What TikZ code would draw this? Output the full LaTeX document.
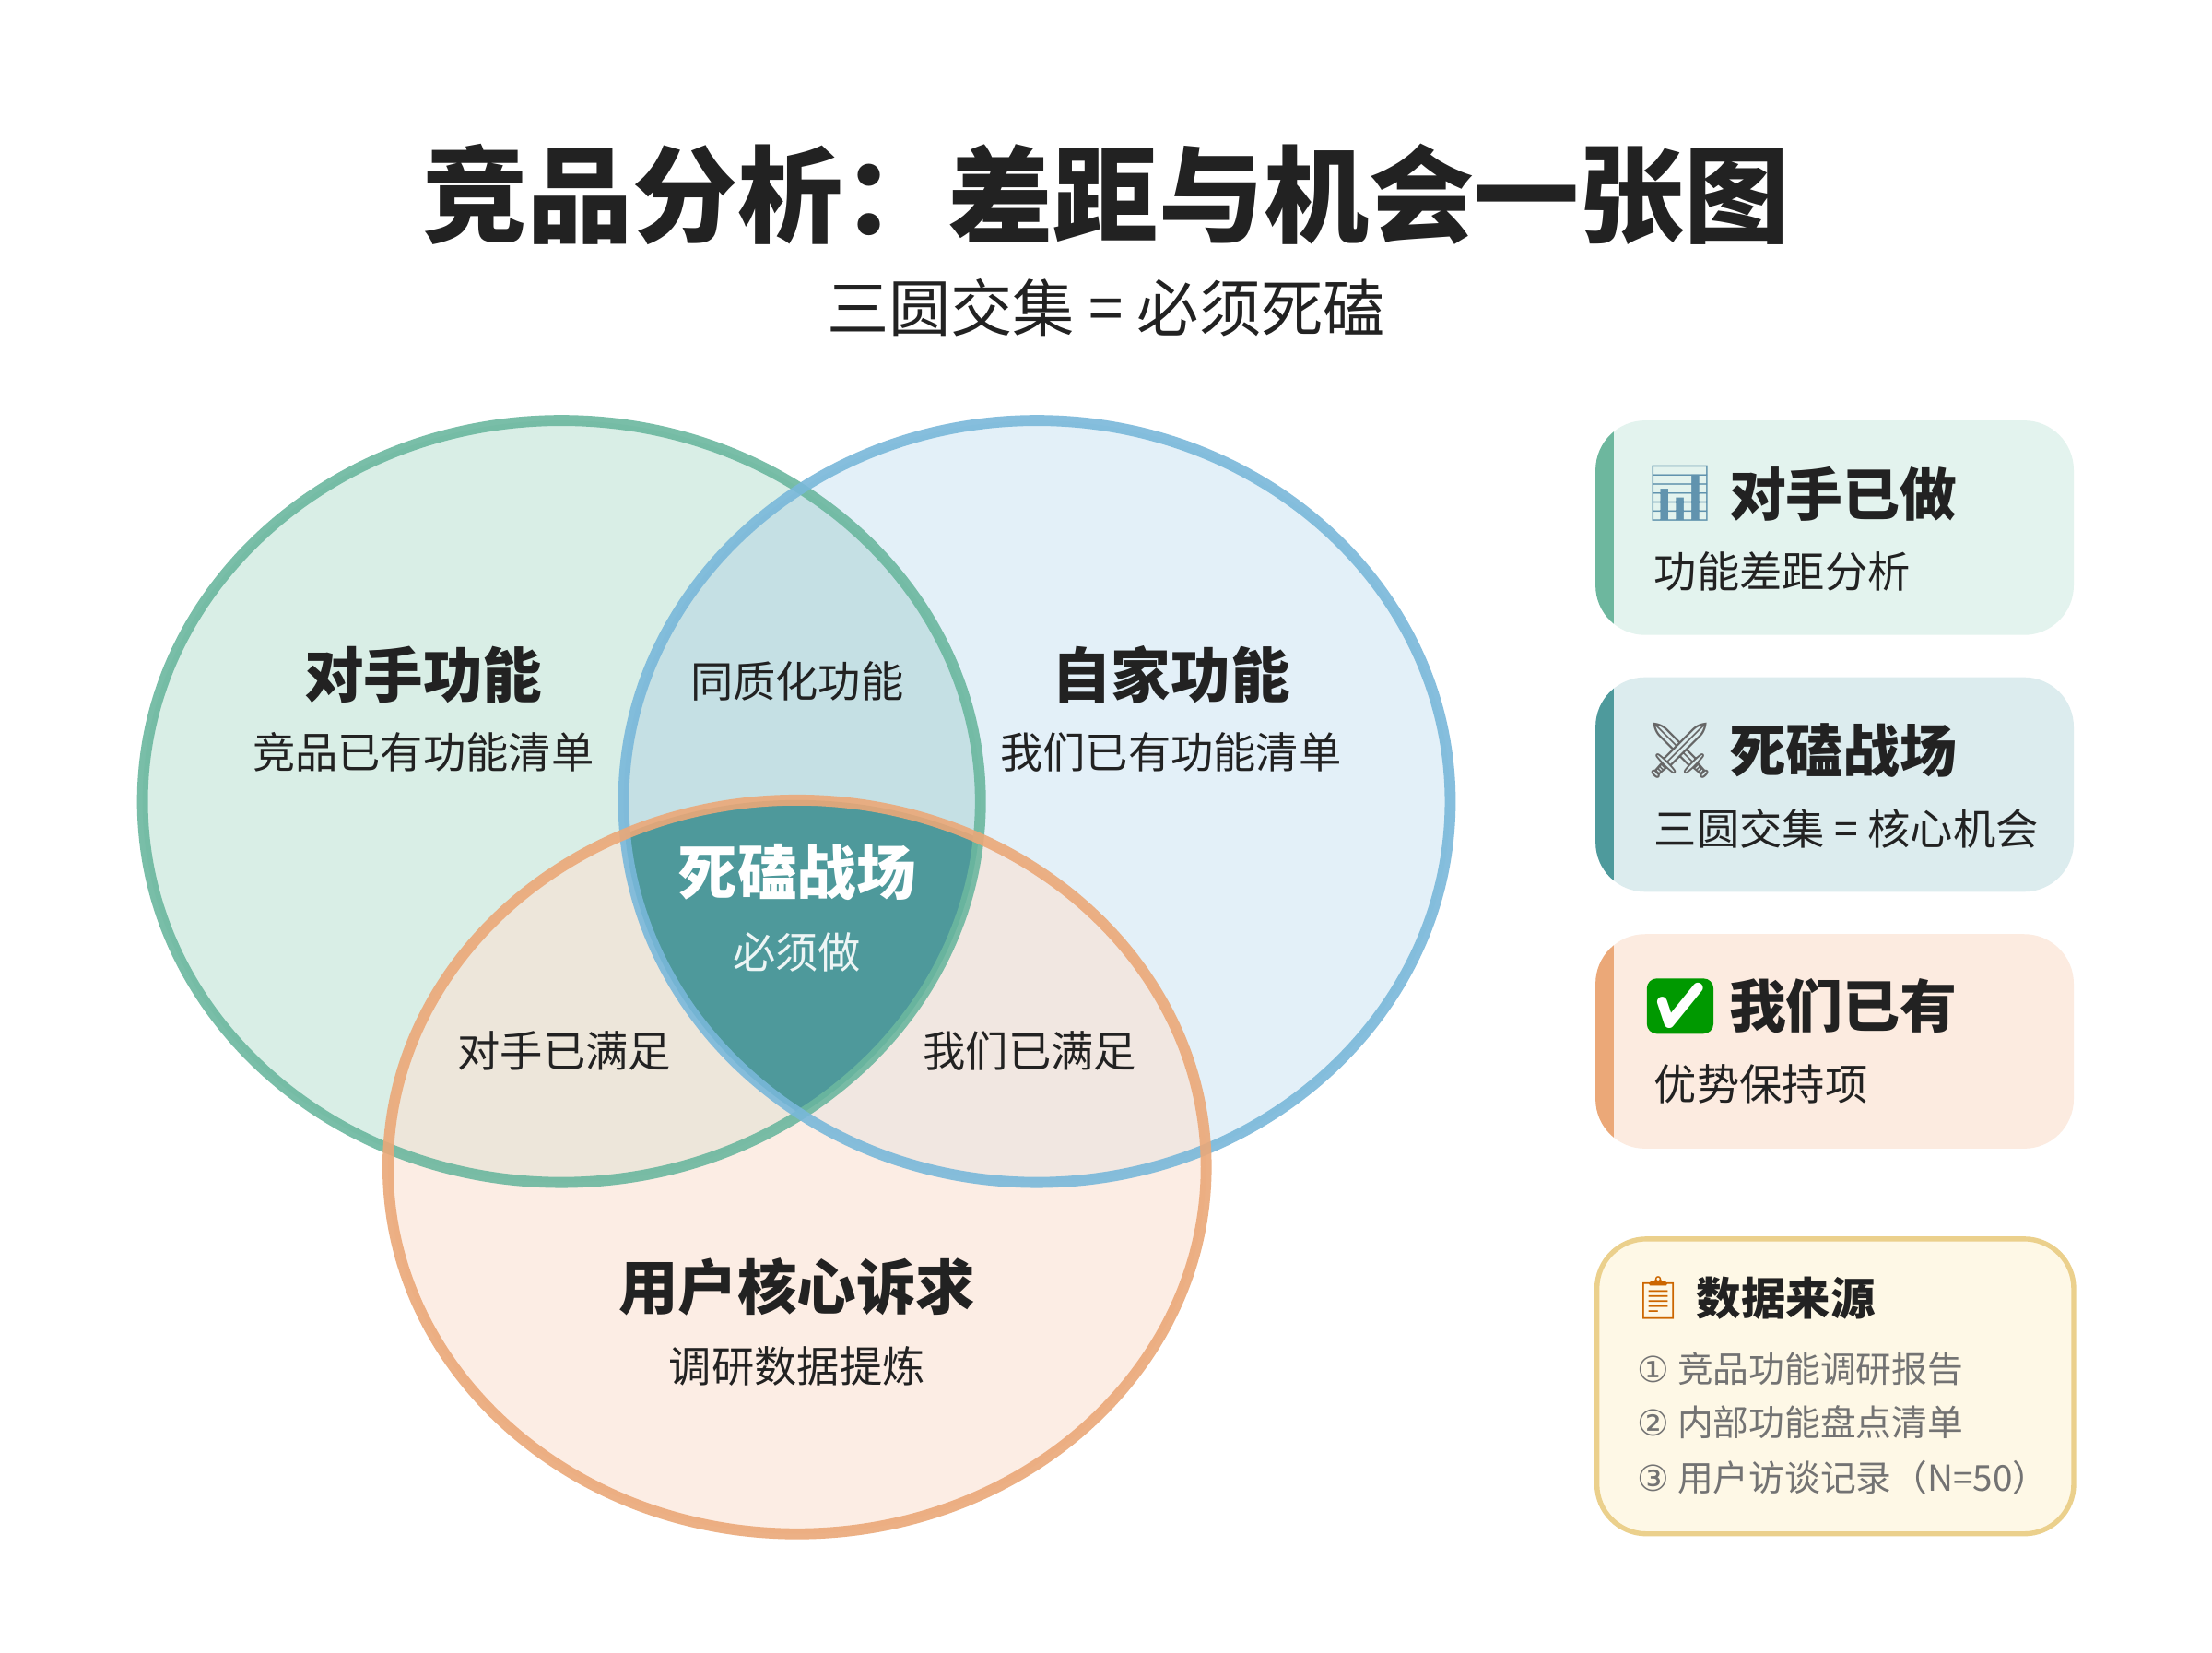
\documentclass[tikz,border=0pt]{standalone}
\usepackage{fontspec}
\setmainfont{Noto Sans CJK SC}
\newfontfamily\emo{Noto Emoji}
\newfontfamily\symf{DejaVu Sans}
\usetikzlibrary{positioning}
\definecolor{GreenLine}{HTML}{6BB79F}
\definecolor{GreenFill}{HTML}{D3ECE2}
\definecolor{BlueLine}{HTML}{79B8DA}
\definecolor{BlueFill}{HTML}{D5E8F5}
\definecolor{OrangeLine}{HTML}{EBA878}
\definecolor{OrangeFill}{HTML}{FBE2D3}
\definecolor{Core}{HTML}{4E999B}
\definecolor{Ink}{HTML}{222222}
\definecolor{SrcLine}{HTML}{EBD08C}
\definecolor{SrcFill}{HTML}{FEF8E6}
\newcommand{\fs}[1]{\fontsize{#1}{#1}\selectfont}
\tikzset{
  cardbox/.style={rounded corners=10pt},
  head/.style={font=\fs{12}\bfseries,text=Ink},
  sub/.style={font=\fs{8.6},text=Ink},
  cardhead/.style={font=\fs{11.5}\bfseries,text=Ink,anchor=west,inner sep=0pt},
  cardsub/.style={font=\fs{8.6},text=Ink,anchor=west,inner sep=0pt},
  srcline/.style={font=\fs{7.2},text=black!55,anchor=west,inner sep=0pt}
}
\begin{document}
\begin{tikzpicture}[x=0.01cm,y=-0.01cm]
    \fill[white] (0,0) rectangle (1568,1171);

    % titles
    \node[font=\fs{21.2}\bfseries,text=Ink] (title) at (784,138) {竞品分析：差距与机会一张图};
    \node[font=\fs{12.5},text=Ink] (subtitle) at (784,218) {三圆交集 = 必须死磕};

    % circle fills
    \fill[GreenFill,fill opacity=0.85] (398,568) ellipse [x radius=297,y radius=270];
    \fill[BlueFill,fill opacity=0.65] (735,568) ellipse [x radius=293,y radius=270];
    \fill[OrangeFill,fill opacity=0.6] (565,827) ellipse [x radius=290,y radius=260];
    \begin{scope}
      \clip (398,568) ellipse [x radius=297,y radius=270];
      \clip (735,568) ellipse [x radius=293,y radius=270];
      \fill[Core,fill opacity=0.12] (0,0) rectangle (1100,1100);
      \fill[Core] (565,827) ellipse [x radius=290,y radius=260];
    \end{scope}
    \draw[GreenLine,line width=2.2pt,opacity=0.9] (398,568) ellipse [x radius=297,y radius=270];
    \draw[BlueLine,line width=2.2pt,opacity=0.9] (735,568) ellipse [x radius=293,y radius=270];
    \draw[OrangeLine,line width=2.2pt,opacity=0.9] (565,827) ellipse [x radius=290,y radius=260];

    % circle labels
    \node[head] (rival) at (300,478) {对手功能};
    \node[sub] (rivalsub) at (300,533) {竞品已有功能清单};
    \node[head] (own) at (830,478) {自家功能};
    \node[sub] (ownsub) at (830,533) {我们已有功能清单};
    \node[head] (user) at (565,912) {用户核心诉求};
    \node[sub] (usersub) at (565,968) {调研数据提炼};
    \node[sub] (same) at (565,483) {同质化功能};
    \node[sub] (rivalmet) at (400,745) {对手已满足};
    \node[sub] (ownmet) at (730,745) {我们已满足};
    \node[head,text=white] (core) at (565,618) {死磕战场};
    \node[sub,text=white!90!Core] (coresub) at (565,675) {必须做};

    % side cards
    \foreach \y/\fc/\sc in {298/E3F3EE/6DB79E, 480/DCECEE/4E9A9C, 662/FCEBE0/EBA878}{
      \definecolor{cf}{HTML}{\fc}\definecolor{cs}{HTML}{\sc}
      \begin{scope}
        \fill[cf,cardbox] (1131,\y) rectangle (1470,\y+152);
        \clip[cardbox] (1131,\y) rectangle (1470,\y+152);
        \fill[cs] (1131,\y) rectangle (1144,\y+152);
      \end{scope}
    }
    \node[font=\emo\fs{11},text=BlueLine!80!black] (icona) at (1191,350) {📊};
    \node[cardhead] (carda) at (1225,350) {对手已做};
    \node[cardsub] (cardasub) at (1172,405) {功能差距分析};
    \node[font=\emo\fs{11},text=black!60] (iconb) at (1191,532) {⚔};
    \node[cardhead] (cardb) at (1225,532) {死磕战场};
    \node[cardsub] (cardbsub) at (1172,587) {三圆交集 = 核心机会};
    \node[fill=green!60!black,rounded corners=2pt,inner sep=1pt,font=\emo\fs{9},text=white] (iconc) at (1191,713) {✔};
    \node[cardhead] (cardc) at (1225,713) {我们已有};
    \node[cardsub] (cardcsub) at (1172,768) {优势保持项};

    % data source card
    \draw[draw=SrcLine,fill=SrcFill,line width=1pt,cardbox] (1132,878) rectangle (1470,1087);
    \node[font=\emo\fs{8.5},text=orange!80!black] (iconsrc) at (1176,920) {📋};
    \node[font=\fs{9}\bfseries,text=Ink,anchor=west,inner sep=0pt] (src) at (1202,920) {数据来源};
    \node[srcline] (srca) at (1160,970) {{\symf ①} 竞品功能调研报告};
    \node[srcline] (srcb) at (1160,1008) {{\symf ②} 内部功能盘点清单};
    \node[srcline] (srcc) at (1160,1047) {{\symf ③} 用户访谈记录（N=50）};
\end{tikzpicture}
\end{document}
